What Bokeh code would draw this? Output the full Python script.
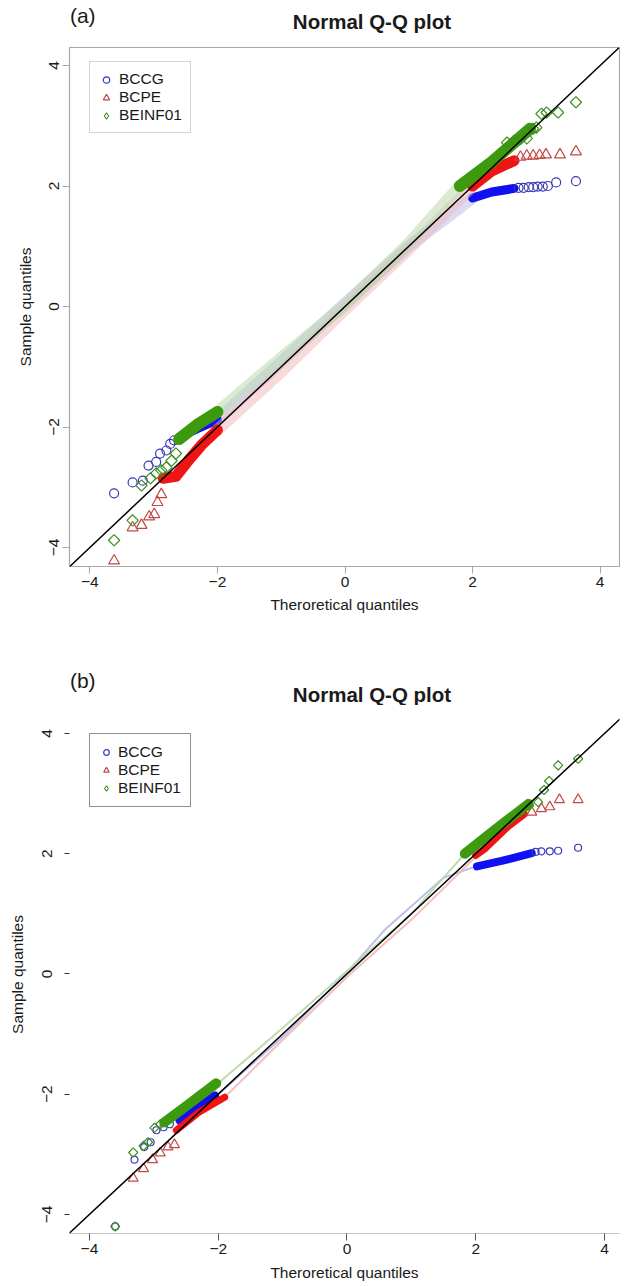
from bokeh.plotting import figure
from bokeh.layouts import column
from bokeh.models import Legend, LegendItem, Slope, FixedTicker, Range1d
from bokeh.core.properties import value
from bokeh.embed import file_html
from bokeh.resources import INLINE

FONT = "Liberation Sans"
tick_values = [-4, -2, 0, 2, 4]
series_names = ["BCCG", "BCPE", "BEINF01"]
panel_tags = ["(a)", "(b)"]
title_text = "Normal Q-Q plot"
x_title = "Theroretical quantiles"
y_title = "Sample quantiles"
qq_gradient = 1.0
qq_intercept = 0.0

# ---------------- Panel (a) ----------------
a_bccg_lo_x = [-3.62, -3.33, -3.17, -3.08, -2.96, -2.90, -2.80, -2.74, -2.68]
a_bccg_lo_y = [-3.10, -2.92, -2.89, -2.64, -2.58, -2.44, -2.39, -2.28, -2.22]
a_bccg_dlo_x = [-2.60, -2.30, -2.00]
a_bccg_dlo_y = [-2.17, -2.02, -1.88]
a_bccg_mid_x = [-2.00, -1.00, 0.00, 1.00, 2.00]
a_bccg_mid_y = [-1.88, -0.92, 0.05, 1.00, 1.80]
a_bccg_dhi_x = [2.00, 2.30, 2.65]
a_bccg_dhi_y = [1.80, 1.90, 1.96]
a_bccg_hi_x = [2.72, 2.80, 2.88, 2.95, 3.02, 3.10, 3.18, 3.31, 3.62]
a_bccg_hi_y = [1.97, 1.97, 1.98, 1.98, 1.99, 1.99, 2.00, 2.06, 2.08]

a_bcpe_lo_x = [-3.62, -3.33, -3.19, -3.07, -2.99, -2.94, -2.88]
a_bcpe_lo_y = [-4.22, -3.67, -3.63, -3.49, -3.45, -3.25, -3.12]
a_bcpe_dlo_x = [-2.85, -2.65, -2.45, -2.25, -2.00]
a_bcpe_dlo_y = [-2.85, -2.82, -2.55, -2.30, -2.05]
a_bcpe_mid_x = [-2.00, -1.00, 0.00, 1.00, 2.00]
a_bcpe_mid_y = [-2.05, -1.08, -0.05, 0.95, 2.00]
a_bcpe_dhi_x = [2.00, 2.30, 2.65]
a_bcpe_dhi_y = [2.00, 2.25, 2.42]
a_bcpe_hi_x = [2.75, 2.85, 2.95, 3.05, 3.15, 3.37, 3.62]
a_bcpe_hi_y = [2.48, 2.50, 2.50, 2.51, 2.52, 2.52, 2.57]

a_beinf_lo_x = [-3.62, -3.33, -3.19, -3.05, -2.96, -2.88, -2.80, -2.72, -2.65]
a_beinf_lo_y = [-3.88, -3.55, -2.97, -2.85, -2.77, -2.72, -2.67, -2.56, -2.44]
a_beinf_dlo_x = [-2.60, -2.30, -2.00]
a_beinf_dlo_y = [-2.20, -1.95, -1.75]
a_beinf_mid_x = [-2.00, -1.00, 0.00, 1.00, 1.80]
a_beinf_mid_y = [-1.75, -0.85, 0.02, 1.05, 2.00]
a_beinf_dhi_x = [1.80, 2.30, 2.90]
a_beinf_dhi_y = [2.00, 2.40, 2.95]
a_beinf_hi_x = [2.54, 2.65, 2.75, 2.85, 2.95, 3.00, 3.08, 3.16, 3.34, 3.62]
a_beinf_hi_y = [2.72, 2.75, 2.78, 2.79, 2.95, 2.97, 3.20, 3.22, 3.22, 3.39]

# ---------------- Panel (b) ----------------
b_bccg_lo_x = [-3.60, -3.30, -3.15, -3.05, -2.96, -2.85, -2.75]
b_bccg_lo_y = [-4.20, -3.09, -2.88, -2.80, -2.60, -2.55, -2.50]
b_bccg_dlo_x = [-2.60, -2.30, -2.05]
b_bccg_dlo_y = [-2.44, -2.20, -2.02]
b_bccg_mid_x = [-2.00, -1.00, 0.00, 0.60, 1.50, 2.00]
b_bccg_mid_y = [-2.00, -1.05, 0.02, 0.75, 1.60, 1.79]
b_bccg_dhi_x = [2.02, 2.40, 2.87]
b_bccg_dhi_y = [1.79, 1.88, 2.01]
b_bccg_hi_x = [2.93, 3.02, 3.15, 3.28, 3.59]
b_bccg_hi_y = [2.03, 2.04, 2.04, 2.05, 2.10]

b_bcpe_lo_x = [-3.32, -3.16, -3.02, -2.90, -2.78, -2.68]
b_bcpe_lo_y = [-3.40, -3.24, -3.09, -2.98, -2.88, -2.84]
b_bcpe_dlo_x = [-2.65, -2.30, -1.90]
b_bcpe_dlo_y = [-2.60, -2.30, -2.05]
b_bcpe_mid_x = [-1.90, -1.00, 0.00, 1.00, 2.00]
b_bcpe_mid_y = [-2.05, -1.10, -0.05, 0.90, 1.95]
b_bcpe_dhi_x = [2.00, 2.14, 2.50, 2.76]
b_bcpe_dhi_y = [1.97, 2.08, 2.45, 2.66]
b_bcpe_hi_x = [2.87, 3.02, 3.15, 3.30, 3.59]
b_bcpe_hi_y = [2.69, 2.75, 2.78, 2.90, 2.90]

b_beinf_lo_x = [-3.60, -3.32, -3.16, -3.09, -2.99, -2.90]
b_beinf_lo_y = [-4.20, -2.97, -2.86, -2.80, -2.56, -2.50]
b_beinf_dlo_x = [-2.84, -2.50, -2.03]
b_beinf_dlo_y = [-2.47, -2.20, -1.82]
b_beinf_mid_x = [-2.00, -1.00, 0.00, 1.00, 1.83]
b_beinf_mid_y = [-1.82, -0.90, 0.05, 1.00, 2.00]
b_beinf_dhi_x = [1.83, 2.30, 2.82]
b_beinf_dhi_y = [2.00, 2.40, 2.83]
b_beinf_hi_x = [2.70, 2.83, 2.97, 3.06, 3.14, 3.28, 3.59]
b_beinf_hi_y = [2.70, 2.80, 2.86, 3.06, 3.21, 3.47, 3.58]

BLUE_M, BLUE_D, BLUE_L = "#3a3ab8", "#1010f0", "#b8b8ea"
RED_M, RED_D, RED_L = "#c44848", "#f01515", "#f0b8b8"
GREEN_M, GREEN_D, GREEN_L = "#3f8f1f", "#3c9a0c", "#b8d8a8"
TXT = "15.5px"


def style_axes(p, boxed):
    p.xaxis.ticker = FixedTicker(ticks=tick_values)
    p.yaxis.ticker = FixedTicker(ticks=tick_values)
    for ax in (p.xaxis, p.yaxis):
        ax.major_label_text_font = FONT
        ax.major_label_text_font_size = TXT
        ax.major_label_text_color = "#1a1a1a"
        ax.axis_label_text_font = FONT
        ax.axis_label_text_font_size = TXT
        ax.axis_label_text_font_style = "normal"
        ax.axis_label_text_color = "#1a1a1a"
        ax.minor_tick_line_color = None
        ax.major_tick_in = 0
    p.xaxis.axis_label = x_title
    p.yaxis.axis_label = y_title
    p.yaxis.major_label_orientation = "vertical"
    p.xgrid.visible = False
    p.ygrid.visible = False
    if boxed:
        p.outline_line_color = "#a8a8a8"
        p.outline_line_width = 1.2
        for ax in (p.xaxis, p.yaxis):
            ax.axis_line_color = None
            ax.major_tick_line_color = "#a8a8a8"
            ax.major_tick_out = 7
        p.xaxis.major_label_standoff = 3
        p.xaxis.axis_label_standoff = 6
        p.yaxis.major_label_standoff = 3
        p.yaxis.axis_label_standoff = 13
    else:
        p.outline_line_color = None
        p.xaxis.axis_line_color = "#c8c8c8"
        p.xaxis.major_tick_line_color = "#555555"
        p.xaxis.major_tick_out = 7
        p.yaxis.axis_line_color = None
        p.yaxis.major_tick_line_color = "#333333"
        p.yaxis.major_tick_out = 5
        p.xaxis.major_label_standoff = 3
        p.xaxis.axis_label_standoff = 7
        p.yaxis.major_label_standoff = 12
        p.yaxis.axis_label_standoff = 14


def draw_series(p, lo_x, lo_y, dlo_x, dlo_y, mid_x, mid_y, dhi_x, dhi_y, hi_x, hi_y,
                marker, size, col_m, col_d, col_l, dense_w, mid_w, mid_alpha, angle=0.0):
    p.line(mid_x, mid_y, line_color=col_l, line_width=mid_w, line_alpha=mid_alpha, line_cap="round")
    p.line(dlo_x, dlo_y, line_color=col_d, line_width=dense_w, line_cap="round", line_join="round")
    p.line(dhi_x, dhi_y, line_color=col_d, line_width=dense_w, line_cap="round", line_join="round")
    r = p.scatter(lo_x, lo_y, marker=marker, size=size, angle=angle, fill_color=None,
                  line_color=col_m, line_width=1.2)
    p.scatter(hi_x, hi_y, marker=marker, size=size, angle=angle, fill_color=None,
              line_color=col_m, line_width=1.2)
    return r


def header(height):
    h = figure(width=620, height=height, output_backend="svg", toolbar_location=None,
               x_range=Range1d(0, 620), y_range=Range1d(0, height),
               min_border_left=0, min_border_right=0, min_border_top=0, min_border_bottom=0,
               x_axis_location=None, y_axis_location=None)
    h.outline_line_color = None
    h.xgrid.visible = False
    h.ygrid.visible = False
    return h


def header_text(h, tag, tag_y, title_y):
    h.text(x=[0.5], y=[tag_y], text=[tag], text_font=value(FONT), text_font_size="21px",
           text_baseline="middle", text_align="left", text_color="#1a1a1a")
    h.text(x=[341], y=[title_y], text=[title_text], text_font=value(FONT), text_font_size="20.5px",
           text_font_style="bold", text_baseline="middle", text_align="center", text_color="#1a1a1a")


def add_legend(p, r_circle, r_tri, gx, gy, loc, border, pad, lh, gw):
    # the diamond key: a hidden renderer on the first BEINF01 point (plot shows rotated squares)
    r_dia = p.scatter([gx[0]], [gy[0]], marker="diamond", size=8, fill_color=None,
                      line_color=GREEN_M, line_width=1.1, visible=False)
    lg = Legend(items=[LegendItem(label=series_names[0], renderers=[r_circle]),
                       LegendItem(label=series_names[1], renderers=[r_tri]),
                       LegendItem(label=series_names[2], renderers=[r_dia])],
                location=loc)
    lg.label_text_font = FONT
    lg.label_text_font_size = TXT
    lg.label_text_color = "#1a1a1a"
    lg.label_height = lh
    lg.glyph_height = lh
    lg.glyph_width = gw
    lg.spacing = 0
    lg.padding = pad
    lg.margin = 0
    lg.label_standoff = 5
    lg.border_line_color = border
    lg.border_line_width = 1
    lg.background_fill_alpha = 1.0
    lg.inactive_fill_alpha = 0.0
    p.add_layout(lg)


# ----- header (a) -----
ha = header(43)
header_text(ha, panel_tags[0], 28, 22)

# ----- figure (a) -----
pa = figure(width=620, height=589, output_backend="svg", toolbar_location=None,
            x_range=Range1d(-4.319, 4.303), y_range=Range1d(-4.315, 4.299),
            min_border_left=62, min_border_right=1, min_border_top=4, min_border_bottom=66)
style_axes(pa, True)
ra1 = draw_series(pa, a_bccg_lo_x, a_bccg_lo_y, a_bccg_dlo_x, a_bccg_dlo_y, a_bccg_mid_x, a_bccg_mid_y,
                  a_bccg_dhi_x, a_bccg_dhi_y, a_bccg_hi_x, a_bccg_hi_y, "circle", 9,
                  BLUE_M, BLUE_D, BLUE_L, 9, 12, 0.5)
ra2 = draw_series(pa, a_bcpe_lo_x, a_bcpe_lo_y, a_bcpe_dlo_x, a_bcpe_dlo_y, a_bcpe_mid_x, a_bcpe_mid_y,
                  a_bcpe_dhi_x, a_bcpe_dhi_y, a_bcpe_hi_x, a_bcpe_hi_y, "triangle", 11,
                  RED_M, RED_D, RED_L, 11, 12, 0.5)
draw_series(pa, a_beinf_lo_x, a_beinf_lo_y, a_beinf_dlo_x, a_beinf_dlo_y, a_beinf_mid_x, a_beinf_mid_y,
            a_beinf_dhi_x, a_beinf_dhi_y, a_beinf_hi_x, a_beinf_hi_y, "square", 8,
            GREEN_M, GREEN_D, GREEN_L, 12, 12, 0.5, angle=0.785398)
pa.add_layout(Slope(gradient=qq_gradient, y_intercept=qq_intercept, line_color="black", line_width=1.5))
add_legend(pa, ra1, ra2, a_beinf_lo_x, a_beinf_lo_y, (20, 433), "#a8a8a8", 8, 17, 16)

# ----- header (b) -----
hb = header(73)
header_text(hb, panel_tags[1], 25, 11)

# ----- figure (b) -----
pb = figure(width=620, height=581, output_backend="svg", toolbar_location=None,
            x_range=Range1d(-4.31, 4.233), y_range=Range1d(-4.318, 4.30),
            min_border_left=69, min_border_right=0, min_border_top=10, min_border_bottom=53)
style_axes(pb, False)
rb1 = draw_series(pb, b_bccg_lo_x, b_bccg_lo_y, b_bccg_dlo_x, b_bccg_dlo_y, b_bccg_mid_x, b_bccg_mid_y,
                  b_bccg_dhi_x, b_bccg_dhi_y, b_bccg_hi_x, b_bccg_hi_y, "circle", 7,
                  BLUE_M, BLUE_D, BLUE_L, 8, 2, 0.9)
rb2 = draw_series(pb, b_bcpe_lo_x, b_bcpe_lo_y, b_bcpe_dlo_x, b_bcpe_dlo_y, b_bcpe_mid_x, b_bcpe_mid_y,
                  b_bcpe_dhi_x, b_bcpe_dhi_y, b_bcpe_hi_x, b_bcpe_hi_y, "triangle", 10,
                  RED_M, RED_D, RED_L, 7, 2, 0.9)
draw_series(pb, b_beinf_lo_x, b_beinf_lo_y, b_beinf_dlo_x, b_beinf_dlo_y, b_beinf_mid_x, b_beinf_mid_y,
            b_beinf_dhi_x, b_beinf_dhi_y, b_beinf_hi_x, b_beinf_hi_y, "square", 6.5,
            GREEN_M, GREEN_D, GREEN_L, 10, 2, 0.9, angle=0.785398)
pb.add_layout(Slope(gradient=qq_gradient, y_intercept=qq_intercept, line_color="black", line_width=1.5))
add_legend(pb, rb1, rb2, b_beinf_lo_x, b_beinf_lo_y, (20, 426), "#222222", 9, 18, 14)

layout = column(ha, pa, hb, pb, spacing=0)
open("out.html", "w").write(file_html(layout, INLINE))
